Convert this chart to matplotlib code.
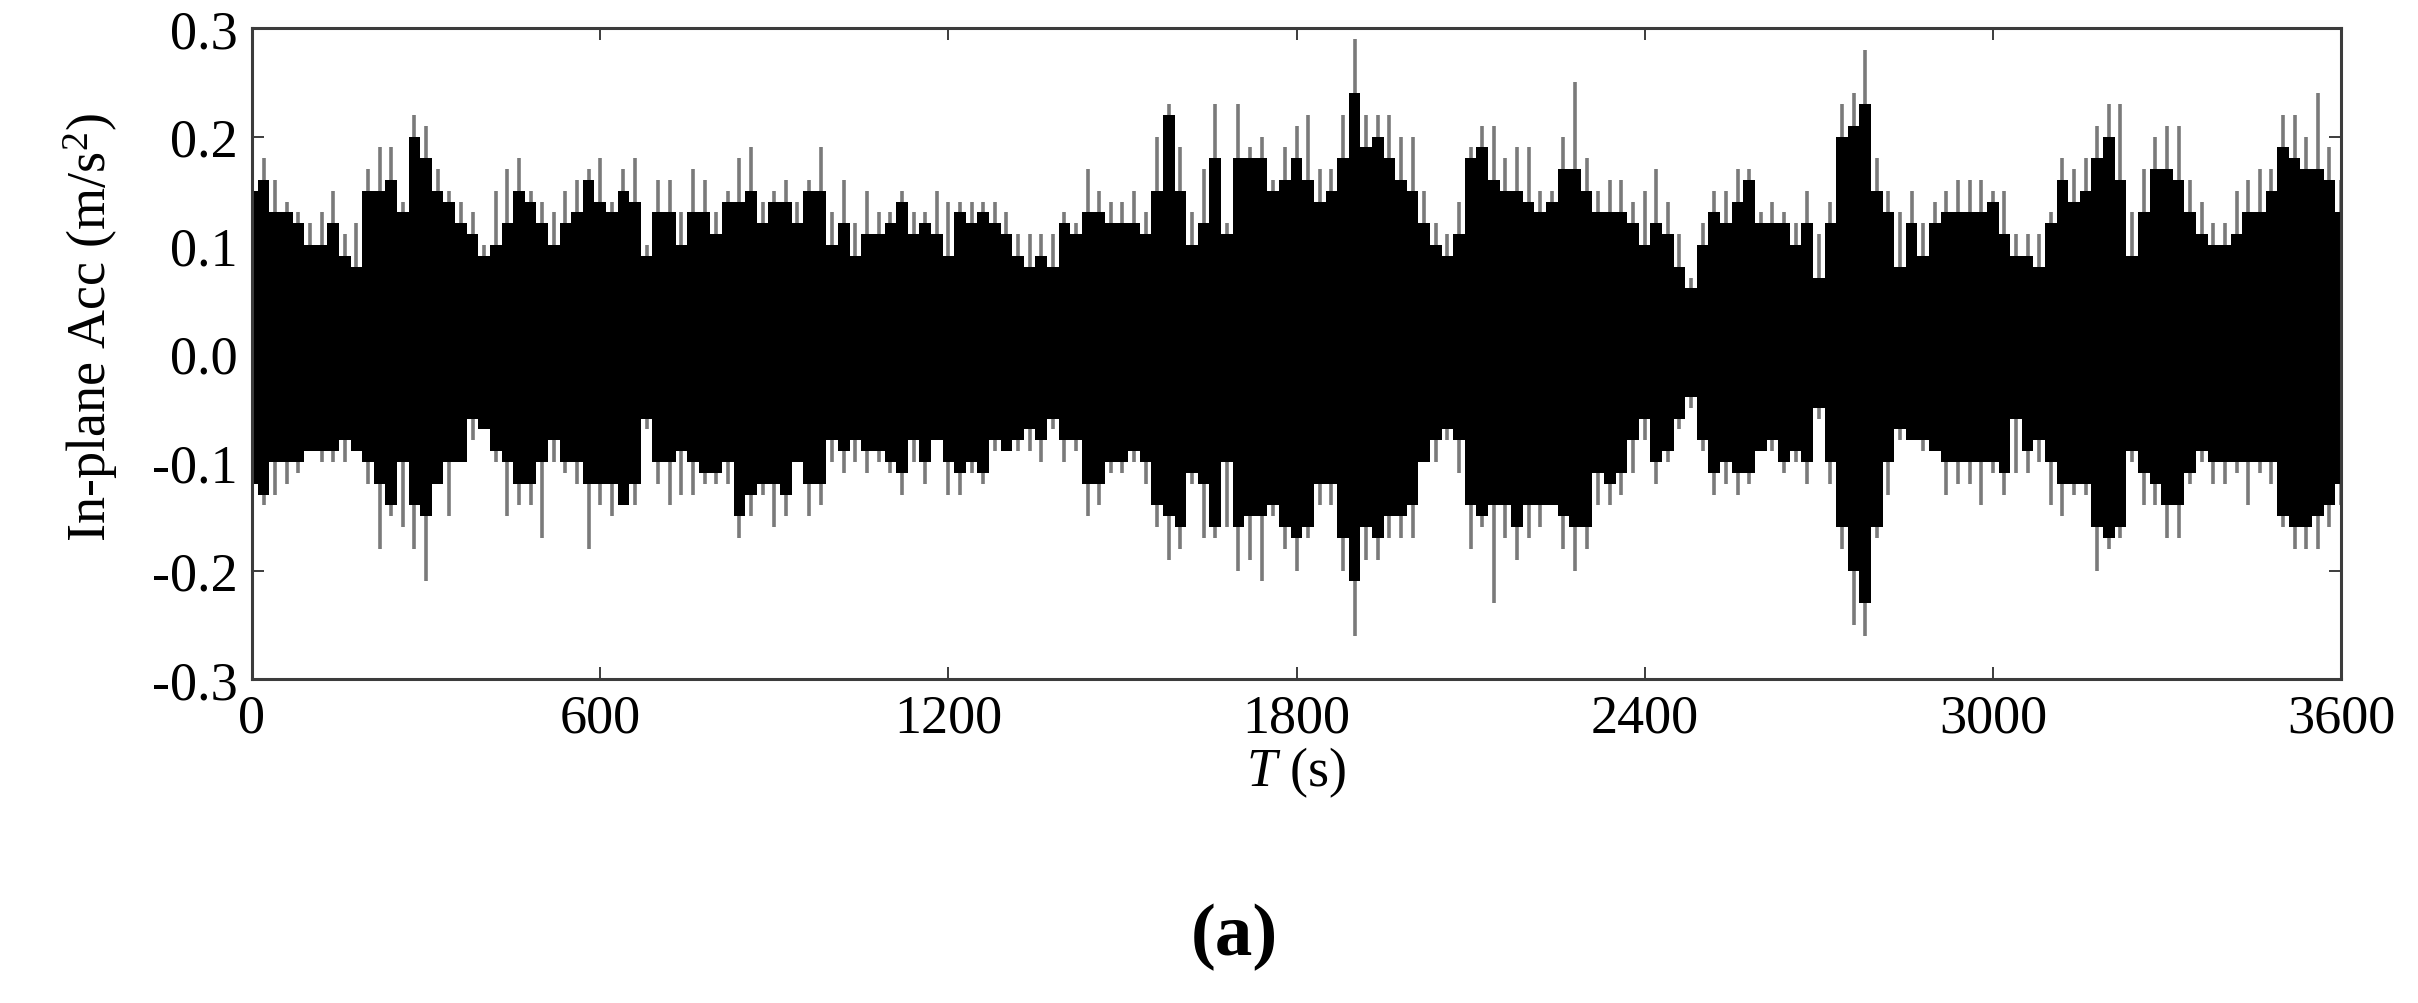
import matplotlib
matplotlib.use("Agg")
import matplotlib.pyplot as plt
from matplotlib.ticker import FormatStrFormatter

plt.rcParams['font.family'] = ['Liberation Serif', 'DejaVu Serif']
plt.rcParams['mathtext.fontset'] = 'custom'
plt.rcParams['mathtext.rm'] = 'Liberation Serif'
plt.rcParams['mathtext.it'] = 'Liberation Serif:italic'
plt.rcParams['axes.unicode_minus'] = False

# sample times (s), one reading every 20 s
time_s = list(range(0, 3601, 20))

# outer (grey spike) maxima, m/s^2
peak_hi = [0.17, 0.18, 0.16, 0.14, 0.13, 0.12, 0.13, 0.15, 0.11, 0.12,
           0.17, 0.19, 0.19, 0.14, 0.22, 0.21, 0.17, 0.15, 0.14, 0.13,
           0.10, 0.15, 0.17, 0.18, 0.15, 0.14, 0.13, 0.15, 0.16, 0.17,
           0.18, 0.14, 0.17, 0.18, 0.10, 0.16, 0.16, 0.13, 0.17, 0.16,
           0.13, 0.15, 0.18, 0.19, 0.14, 0.15, 0.16, 0.14, 0.16, 0.19,
           0.13, 0.16, 0.12, 0.15, 0.13, 0.13, 0.15, 0.13, 0.13, 0.15,
           0.14, 0.14, 0.14, 0.14, 0.14, 0.13, 0.11, 0.11, 0.11, 0.11,
           0.13, 0.12, 0.17, 0.15, 0.14, 0.14, 0.15, 0.13, 0.20, 0.23,
           0.19, 0.13, 0.17, 0.23, 0.12, 0.23, 0.19, 0.20, 0.16, 0.19,
           0.21, 0.22, 0.17, 0.17, 0.22, 0.29, 0.22, 0.22, 0.22, 0.20,
           0.20, 0.15, 0.12, 0.11, 0.14, 0.19, 0.21, 0.21, 0.18, 0.19,
           0.19, 0.15, 0.15, 0.20, 0.25, 0.18, 0.15, 0.16, 0.16, 0.14,
           0.15, 0.17, 0.14, 0.11, 0.07, 0.12, 0.15, 0.15, 0.17, 0.17,
           0.13, 0.14, 0.13, 0.12, 0.15, 0.11, 0.14, 0.23, 0.24, 0.28,
           0.18, 0.15, 0.13, 0.15, 0.12, 0.14, 0.15, 0.16, 0.16, 0.16,
           0.15, 0.15, 0.11, 0.11, 0.11, 0.13, 0.18, 0.17, 0.18, 0.21,
           0.23, 0.23, 0.13, 0.17, 0.20, 0.21, 0.21, 0.16, 0.14, 0.12,
           0.12, 0.15, 0.16, 0.17, 0.17, 0.22, 0.22, 0.20, 0.24, 0.19,
           0.16]

# dense (black) upper envelope
core_hi = [0.15, 0.16, 0.13, 0.13, 0.12, 0.10, 0.10, 0.12, 0.09, 0.08,
           0.15, 0.15, 0.16, 0.13, 0.20, 0.18, 0.15, 0.14, 0.12, 0.11,
           0.09, 0.10, 0.12, 0.15, 0.14, 0.12, 0.10, 0.12, 0.13, 0.16,
           0.14, 0.13, 0.15, 0.14, 0.09, 0.13, 0.13, 0.10, 0.13, 0.13,
           0.11, 0.14, 0.14, 0.15, 0.12, 0.14, 0.14, 0.12, 0.15, 0.15,
           0.10, 0.12, 0.09, 0.11, 0.11, 0.12, 0.14, 0.11, 0.12, 0.11,
           0.09, 0.13, 0.12, 0.13, 0.12, 0.11, 0.09, 0.08, 0.09, 0.08,
           0.12, 0.11, 0.13, 0.13, 0.12, 0.12, 0.12, 0.11, 0.15, 0.22,
           0.15, 0.10, 0.12, 0.18, 0.11, 0.18, 0.18, 0.18, 0.15, 0.16,
           0.18, 0.16, 0.14, 0.15, 0.18, 0.24, 0.19, 0.20, 0.18, 0.16,
           0.15, 0.12, 0.10, 0.09, 0.11, 0.18, 0.19, 0.16, 0.15, 0.15,
           0.14, 0.13, 0.14, 0.17, 0.17, 0.15, 0.13, 0.13, 0.13, 0.12,
           0.10, 0.12, 0.11, 0.08, 0.06, 0.10, 0.13, 0.12, 0.14, 0.16,
           0.12, 0.12, 0.12, 0.10, 0.12, 0.07, 0.12, 0.20, 0.21, 0.23,
           0.15, 0.13, 0.08, 0.12, 0.09, 0.12, 0.13, 0.13, 0.13, 0.13,
           0.14, 0.11, 0.09, 0.09, 0.08, 0.12, 0.16, 0.14, 0.15, 0.18,
           0.20, 0.16, 0.09, 0.13, 0.17, 0.17, 0.16, 0.13, 0.11, 0.10,
           0.10, 0.11, 0.13, 0.13, 0.15, 0.19, 0.18, 0.17, 0.17, 0.16,
           0.13]

# dense (black) lower envelope
core_lo = [-0.12, -0.13, -0.10, -0.10, -0.10, -0.09, -0.09, -0.09, -0.08, -0.09,
           -0.10, -0.12, -0.14, -0.10, -0.14, -0.15, -0.12, -0.10, -0.10, -0.06,
           -0.07, -0.09, -0.10, -0.12, -0.12, -0.10, -0.08, -0.10, -0.10, -0.12,
           -0.12, -0.12, -0.14, -0.12, -0.06, -0.10, -0.10, -0.09, -0.10, -0.11,
           -0.11, -0.10, -0.15, -0.13, -0.12, -0.12, -0.13, -0.10, -0.12, -0.12,
           -0.08, -0.09, -0.08, -0.09, -0.09, -0.10, -0.11, -0.08, -0.10, -0.08,
           -0.10, -0.11, -0.10, -0.11, -0.08, -0.09, -0.08, -0.07, -0.08, -0.06,
           -0.08, -0.08, -0.12, -0.12, -0.10, -0.10, -0.09, -0.10, -0.14, -0.15,
           -0.16, -0.11, -0.12, -0.16, -0.10, -0.16, -0.15, -0.15, -0.14, -0.16,
           -0.17, -0.16, -0.12, -0.12, -0.17, -0.21, -0.16, -0.17, -0.15, -0.15,
           -0.14, -0.10, -0.08, -0.07, -0.08, -0.14, -0.15, -0.14, -0.14, -0.16,
           -0.14, -0.14, -0.14, -0.15, -0.16, -0.16, -0.11, -0.12, -0.11, -0.08,
           -0.06, -0.10, -0.09, -0.06, -0.04, -0.08, -0.11, -0.10, -0.11, -0.11,
           -0.09, -0.08, -0.10, -0.09, -0.10, -0.05, -0.10, -0.16, -0.20, -0.23,
           -0.16, -0.10, -0.07, -0.08, -0.08, -0.09, -0.10, -0.10, -0.10, -0.10,
           -0.10, -0.11, -0.06, -0.09, -0.08, -0.10, -0.12, -0.12, -0.12, -0.16,
           -0.17, -0.16, -0.09, -0.11, -0.12, -0.14, -0.14, -0.11, -0.09, -0.10,
           -0.10, -0.10, -0.10, -0.10, -0.10, -0.15, -0.16, -0.16, -0.15, -0.14,
           -0.12]

# outer (grey spike) minima
peak_lo = [-0.17, -0.14, -0.13, -0.12, -0.11, -0.09, -0.10, -0.10, -0.10, -0.09,
           -0.12, -0.18, -0.15, -0.16, -0.18, -0.21, -0.12, -0.15, -0.10, -0.08,
           -0.07, -0.10, -0.15, -0.14, -0.14, -0.17, -0.10, -0.11, -0.12, -0.18,
           -0.14, -0.15, -0.14, -0.14, -0.07, -0.12, -0.14, -0.13, -0.13, -0.12,
           -0.12, -0.12, -0.17, -0.15, -0.13, -0.16, -0.15, -0.10, -0.15, -0.14,
           -0.10, -0.11, -0.10, -0.11, -0.10, -0.11, -0.13, -0.10, -0.12, -0.08,
           -0.13, -0.13, -0.11, -0.12, -0.09, -0.09, -0.09, -0.09, -0.10, -0.07,
           -0.10, -0.09, -0.15, -0.14, -0.11, -0.11, -0.10, -0.12, -0.16, -0.19,
           -0.18, -0.12, -0.17, -0.17, -0.16, -0.20, -0.19, -0.21, -0.15, -0.18,
           -0.20, -0.17, -0.14, -0.14, -0.20, -0.26, -0.19, -0.19, -0.17, -0.17,
           -0.17, -0.10, -0.10, -0.08, -0.11, -0.18, -0.16, -0.23, -0.17, -0.19,
           -0.17, -0.16, -0.14, -0.18, -0.20, -0.18, -0.14, -0.14, -0.13, -0.11,
           -0.08, -0.12, -0.10, -0.07, -0.05, -0.09, -0.13, -0.12, -0.13, -0.12,
           -0.09, -0.09, -0.11, -0.10, -0.12, -0.06, -0.12, -0.18, -0.25, -0.26,
           -0.17, -0.13, -0.08, -0.08, -0.09, -0.09, -0.13, -0.12, -0.12, -0.14,
           -0.11, -0.13, -0.11, -0.11, -0.10, -0.14, -0.15, -0.13, -0.13, -0.20,
           -0.18, -0.17, -0.10, -0.14, -0.14, -0.17, -0.17, -0.12, -0.10, -0.12,
           -0.12, -0.11, -0.14, -0.11, -0.12, -0.16, -0.18, -0.18, -0.18, -0.16,
           -0.14]

x_ticks = [0, 600, 1200, 1800, 2400, 3000, 3600]
y_ticks = [-0.3, -0.2, -0.1, 0.0, 0.1, 0.2, 0.3]

W, H = 2418, 1004
fig = plt.figure(figsize=(W / 100, H / 100), dpi=100)
ax = fig.add_axes([252 / W, 1 - 680 / H, (2341 - 252) / W, (680 - 29) / H])

# grey spikes (outer extremes)
ax.vlines(time_s, peak_lo, peak_hi, colors='#7a7a7a', linewidth=2.6, zorder=2)
# dense black body
ax.fill_between(time_s, core_lo, core_hi, step='mid', color='black',
                linewidth=0, zorder=3)

ax.set_xlim(0, 3600)
ax.set_ylim(-0.3, 0.3)
ax.set_xticks(x_ticks)
ax.set_yticks(y_ticks)
ax.yaxis.set_major_formatter(FormatStrFormatter('%.1f'))

spine_col = '#3c3c3c'
for s in ax.spines.values():
    s.set_color(spine_col)
    s.set_linewidth(2.2)
    s.set_zorder(5)

ax.tick_params(direction='in', length=8.6, width=1.4, colors=spine_col,
               labelcolor='black', labelsize=39, top=True, right=True, pad=10)

ax.set_ylabel('In-plane Acc (m/s$^2$)', fontsize=39)
ax.yaxis.set_label_coords(-0.063, 0.541)
ax.set_xlabel('$T$ (s)', fontsize=39)
ax.xaxis.set_label_coords(0.5, -0.10)

fig.text(1234 / W, 1 - 955 / H, '(a)', ha='center', va='baseline',
         fontsize=54, fontweight='bold')

fig.savefig('out.png', dpi=100)
